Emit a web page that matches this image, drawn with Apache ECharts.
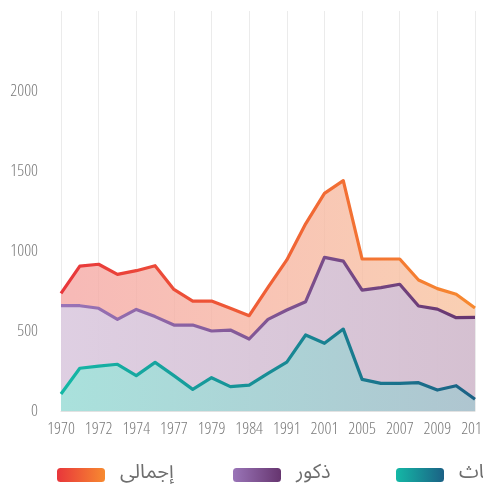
<!DOCTYPE html>
<html><head><meta charset="utf-8">
<script src="https://cdn.jsdelivr.net/npm/echarts@6/dist/echarts.min.js"></script>
<style>html,body{margin:0;padding:0;background:#fff}#c{width:483px;height:486px}</style>
</head><body><div id="c"></div>
<script>
const categories = ['1970','1971','1972','1973','1974','1975','1977','1978','1979','1981','1984','1986','1991','1996','2001','2003','2005','2006','2007','2008','2009','2010','2011'];
const total   = [735, 906, 917, 854, 877, 908, 760, 687, 687, 642, 596, 773, 944, 1170, 1360, 1440, 950, 950, 950, 819, 765, 730, 644];
const males   = [658, 658, 642, 573, 635, 590, 537, 537, 500, 506, 450, 573, 631, 683, 960, 937, 756, 771, 792, 656, 637, 583, 585];
const females = [106, 267, 281, 292, 221, 304, 221, 135, 208, 152, 162, 235, 306, 475, 423, 512, 198, 173, 173, 177, 131, 158, 73];
const seriesNames = ['إجمالى', 'ذكور', 'إناث'];
const yTicks = [0, 500, 1000, 1500, 2000];

const G = (a, b) => new echarts.graphic.LinearGradient(0, 0, 1, 0, [{offset: 0, color: a}, {offset: 1, color: b}]);
const palette = [
  {line: ['#e8363b', '#f78a30'], area: ['rgba(245,168,165,0.8)', 'rgba(248,196,160,0.8)']},
  {line: ['#9a75b8', '#66356f'], area: ['rgba(220,208,229,0.93)', 'rgba(210,191,211,0.93)']},
  {line: ['#14b8a6', '#1b6185'], area: ['rgba(166,227,220,0.93)', 'rgba(172,198,208,0.93)']}
];
const dataSets = [total, males, females];

const chart = echarts.init(document.getElementById('c'), null, {renderer: 'canvas'});
const numFont = {fontFamily: "'Open Sans'", fontStyle: 'normal', fontWeight: '300 condensed', fontSize: 17, color: '#7a7a7a'};
chart.setOption({
  animation: false,
  grid: {left: 61, right: 8, top: 11, bottom: 75, containLabel: false, outerBoundsMode: 'none'},
  xAxis: {
    type: 'category', data: categories, boundaryGap: false,
    axisLine: {show: true, lineStyle: {color: '#e2e2e2', width: 1}},
    axisTick: {show: false},
    axisLabel: Object.assign({interval: 1, margin: 10, hideOverlap: false, showMinLabel: true, showMaxLabel: true}, numFont),
    splitLine: {show: true, interval: 1, lineStyle: {color: '#ebebeb', width: 1}}
  },
  yAxis: {
    type: 'value', min: 0, max: 2500, interval: 500,
    axisLine: {show: false}, axisTick: {show: false}, splitLine: {show: false},
    axisLabel: Object.assign({margin: 23, formatter: v => yTicks.indexOf(v) >= 0 ? String(v) : ''}, numFont)
  },
  legend: seriesNames.map((n, i) => ({
    data: [n], top: 460, left: [52, 228, 391][i], icon: 'roundRect',
    itemWidth: 48, itemHeight: 14, itemGap: 0,
    textStyle: {color: '#6e6e6e', fontSize: 20, fontFamily: "'Noto Sans Arabic','DejaVu Sans',sans-serif", padding: [0, 0, 0, 10]}
  })),
  series: seriesNames.map((n, i) => ({
    name: n, type: 'line', data: dataSets[i], showSymbol: false, symbol: 'none',
    lineStyle: {width: 3.2, color: G(palette[i].line[0], palette[i].line[1]), join: 'round'},
    itemStyle: {color: G(palette[i].line[0], palette[i].line[1])},
    areaStyle: {color: G(palette[i].area[0], palette[i].area[1]), opacity: 1},
    z: 2 + i
  }))
});
</script></body></html>
